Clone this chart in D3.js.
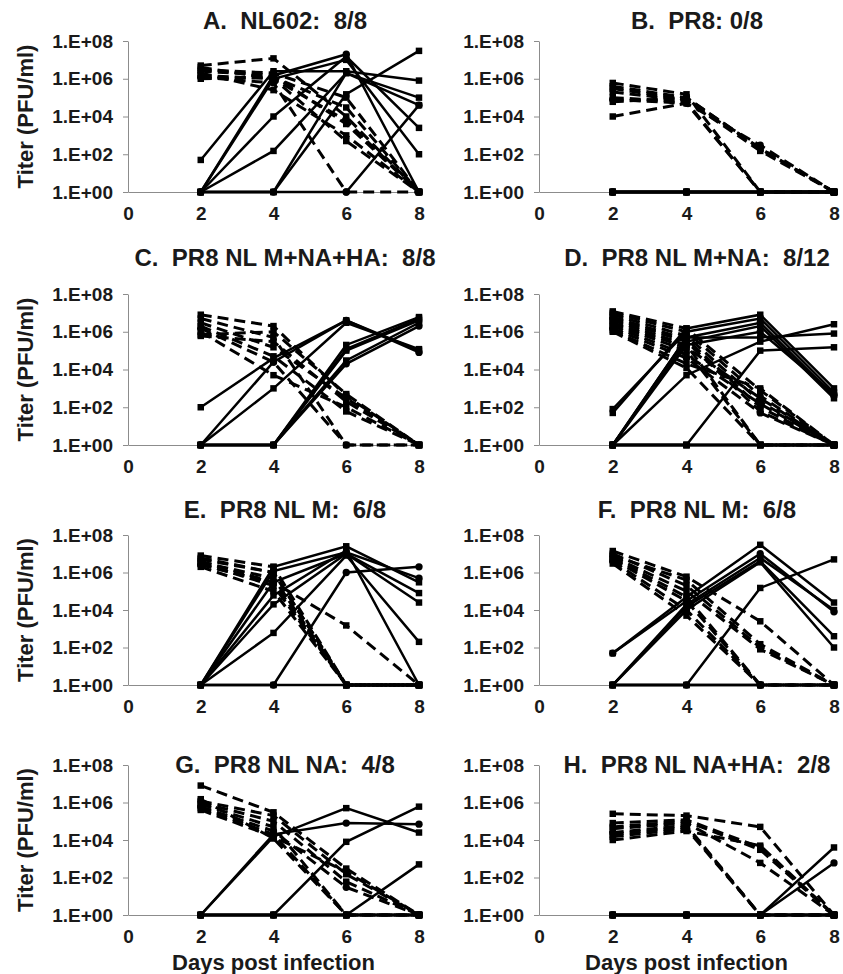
<!DOCTYPE html>
<html>
<head>
<meta charset="utf-8">
<script src="https://cdn.jsdelivr.net/npm/d3@7"></script>
<style>
  body { margin: 0; background: #fff; }
  svg text { font-family: "Liberation Sans", Arial, sans-serif; font-weight: bold; fill: #1a1a1a; }
</style>
</head>
<body>
<svg width="843" height="974"></svg>
<script>
// titers in PFU/ml, one row per animal, days 2/4/6/8
const days = [2, 4, 6, 8];
const xTicks = [0, 2, 4, 6, 8];
const yTicks = [1, 1e2, 1e4, 1e6, 1e8];
const titles = ["A.  NL602:  8/8", "B.  PR8: 0/8", "C.  PR8 NL M+NA+HA:  8/8", "D.  PR8 NL M+NA:  8/12",
                "E.  PR8 NL M:  6/8", "F.  PR8 NL M:  6/8", "G.  PR8 NL NA:  4/8", "H.  PR8 NL NA+HA:  2/8"];

// inoculated animals (dashed)
const inocA = [[5e6, 1.2e7, 1e4, 1], [3e6, 2e6, 1e5, 1], [2.5e6, 1.5e6, 4e3, 1], [1.5e6, 1e6, 5e2, 1],
               [1.2e6, 6e5, 1, 1], [1e6, 1.2e6, 3e4, 1], [2e6, 2.5e5, 1e3, 1], [4e6, 1e6, 6e3, 1]];
const inocB = [[6e5, 1.5e5, 1, 1], [4e5, 1e5, 2e2, 1], [3e5, 8e4, 2e2, 1], [1e5, 6e4, 1, 1],
               [8e4, 5e4, 3e2, 1], [6e4, 1e5, 2e2, 1], [1e4, 5e4, 1, 1], [2e5, 7e4, 1.5e2, 1]];
const inocC = [[8e6, 2e6, 4e2, 1], [5e6, 5e5, 1, 1], [3e6, 1.5e5, 3e2, 1], [2e6, 5e4, 60, 1],
               [1.5e6, 2.5e4, 1, 1], [1e6, 5e3, 1e2, 1], [7e5, 1e6, 5e2, 1], [6e5, 3e5, 2e2, 1]];
const inocD = [[1.2e7, 1.5e6, 8e2, 1], [1e7, 1e6, 4e2, 1], [8e6, 6e5, 2e2, 1], [6e6, 4e5, 1e2, 1],
               [5e6, 3e5, 60, 1], [4e6, 2e5, 1, 1], [3e6, 1.5e5, 3e2, 1], [2.5e6, 1e5, 1, 1],
               [2e6, 6e4, 1.5e2, 1], [1.5e6, 4e4, 50, 1], [1.2e6, 2e4, 1e3, 1], [1e6, 1.2e4, 1, 1]];
const inocE = [[8e6, 2e6, 1, 1], [6e6, 1e6, 1, 1], [4e6, 3e5, 1.5e3, 1], [3e6, 2e5, 1, 1],
               [2.5e6, 3e5, 1, 1], [2e6, 1e5, 1, 1], [5e6, 1e6, 1, 1], [3.5e6, 5e5, 1, 1]];
const inocF = [[1.4e7, 6e5, 2.5e3, 1], [1e7, 2e5, 1e2, 1], [7e6, 1e5, 80, 1], [5e6, 3e4, 1, 1],
               [4e6, 1e4, 1, 1], [3e6, 5e3, 1, 1], [8e6, 4e5, 1.5e2, 1], [6e6, 5e4, 1, 1]];
const inocG = [[8e6, 3e5, 3e2, 1], [1.2e6, 2e5, 1.5e2, 1], [1e6, 1e5, 60, 1], [8e5, 5e4, 1, 1],
               [6e5, 3e4, 30, 1], [5e5, 2e4, 1, 1], [4e5, 1.5e4, 2e2, 1], [1.5e6, 1.2e4, 1, 1]];
const inocH = [[2.5e5, 2e5, 5e4, 1], [8e4, 1.2e5, 4e3, 1], [5e4, 1e5, 3e3, 1], [4e4, 8e4, 6e2, 1],
               [2.5e4, 6e4, 1, 1], [2e4, 5e4, 1, 1], [1.5e4, 4e4, 1, 1], [1e4, 3e4, 5e3, 1]];

// contact animals (solid)
const contA = [[50, 2.5e6, 2.5e6, 8e5], [1, 1.5e6, 2e7, 1], [1, 1e4, 1.5e7, 2.5e3], [1, 1.5e2, 2e6, 1e5],
               [1, 1, 2e6, 4e4], [1, 1, 1.5e5, 3e7], [1, 1, 1, 4e4], [1, 1e6, 1e7, 1e2]];
const contB = [[1, 1, 1, 1], [1, 1, 1, 1], [1, 1, 1, 1], [1, 1, 1, 1],
               [1, 1, 1, 1], [1, 1, 1, 1], [1, 1, 1, 1], [1, 1, 1, 1]];
const contC = [[1e2, 4e4, 4e6, 1e5], [1, 2.5e4, 4e6, 8e4], [1, 1e3, 3e6, 1.2e5], [1, 1, 2e5, 6e6],
               [1, 1, 1e5, 4e6], [1, 1, 3e4, 3e6], [1, 1, 2e4, 2e6], [1, 1, 1.2e5, 5e6]];
const contD = [[50, 1.5e6, 8e6, 1e3], [80, 1e6, 5e6, 6e2], [1, 5e5, 3e6, 4e2], [1, 5e5, 5e5, 8e5],
               [1, 5e3, 3e5, 2.5e6], [1, 3e5, 2e6, 3e2], [1, 1, 1e5, 1.5e5], [1, 2e5, 1e6, 5e2],
               [1, 1, 1, 1], [1, 1, 1, 1], [1, 1, 1, 1], [1, 1, 1, 1]];
const contE = [[1, 2e6, 2.5e7, 3e5], [1, 1.2e6, 1.2e7, 5e5], [1, 3e5, 1e7, 8e4], [1, 2e4, 1e7, 2.5e4],
               [1, 6e2, 8e6, 2e2], [1, 6e4, 1.5e7, 1], [1, 1, 1e6, 2e6], [1, 1, 1, 1]];
const contF = [[50, 5e4, 3e7, 2.5e4], [50, 3e4, 1e7, 8e3], [1, 2e4, 6e6, 1e4], [1, 1.5e4, 4e6, 4e2],
               [1, 1e4, 3.5e6, 1e2], [1, 1, 1.5e5, 5e6], [1, 1, 1, 1], [1, 1, 1, 1]];
const contG = [[1, 1.5e4, 5e5, 2.5e4], [1, 2e4, 8e4, 7e4], [1, 1, 8e3, 6e5], [1, 1, 1, 5e2],
               [1, 1, 1, 1], [1, 1, 1, 1], [1, 1, 1, 1], [1, 1, 1, 1]];
const contH = [[1, 1, 1, 4e3], [1, 1, 1, 6e2], [1, 1, 1, 1], [1, 1, 1, 1],
               [1, 1, 1, 1], [1, 1, 1, 1], [1, 1, 1, 1], [1, 1, 1, 1]];

const inoc = [inocA, inocB, inocC, inocD, inocE, inocF, inocG, inocH];
const cont = [contA, contB, contC, contD, contE, contF, contG, contH];

const svg = d3.select("svg");

// layout
const colX = [[128, 419], [539, 834]];
const rowY = [[41, 192], [294, 445], [535, 685], [765, 915]];
const titleX = [285, 697];
const titleY = [29, 266, 518, 773];

const fmt = d => "1.E+" + String(Math.round(Math.log10(d))).padStart(2, "0");
const axisColor = "#8c8c8c";

titles.forEach((title, i) => {
  const col = i % 2, row = Math.floor(i / 2);
  const x = d3.scaleLinear().domain([0, 8]).range(colX[col]);
  const y = d3.scaleLog().domain([1, 1e8]).range([rowY[row][1], rowY[row][0]]);
  const g = svg.append("g");

  const yAxis = g.append("g")
      .attr("transform", `translate(${colX[col][0]},0)`)
      .call(d3.axisLeft(y).tickValues(yTicks).tickFormat(fmt).tickSize(5).tickSizeOuter(0).tickPadding(10));
  yAxis.attr("font-size", 19).attr("font-family", null);
  yAxis.selectAll("path, line").attr("stroke", axisColor);

  const xAxis = g.append("g")
      .attr("transform", `translate(0,${rowY[row][1]})`)
      .call(d3.axisBottom(x).tickValues(xTicks).tickSize(0).tickSizeOuter(0).tickPadding(15));
  xAxis.attr("font-size", 19).attr("font-family", null);
  xAxis.selectAll("path").attr("stroke", axisColor);

  g.append("text")
      .attr("x", titleX[col]).attr("y", titleY[row])
      .attr("text-anchor", "middle").attr("font-size", 24)
      .style("white-space", "pre")
      .text(title);

  if (col === 0) {
    const cy = (rowY[row][0] + rowY[row][1]) / 2;
    g.append("text")
        .attr("transform", `translate(33,${cy}) rotate(-90)`)
        .attr("text-anchor", "middle").attr("font-size", 22)
        .text("Titer (PFU/ml)");
  }
  if (row === 3) {
    g.append("text")
        .attr("x", (colX[col][0] + colX[col][1]) / 2).attr("y", 970)
        .attr("text-anchor", "middle").attr("font-size", 22)
        .text("Days post infection");
  }

  const line = d3.line().x((d, j) => x(days[j])).y(d => y(d));
  const sym = d3.symbol().type(d3.symbolSquare).size(42);

  // dashed first, solid on top
  inoc[i].forEach(s => {
    g.append("path").attr("d", line(s))
        .attr("fill", "none").attr("stroke", "#000")
        .attr("stroke-width", 3).attr("stroke-dasharray", "11,6");
  });
  cont[i].forEach(s => {
    g.append("path").attr("d", line(s))
        .attr("fill", "none").attr("stroke", "#000").attr("stroke-width", 2.5);
  });

  [...inoc[i], ...cont[i]].forEach((s, k) => {
    g.selectAll(null).data(s).enter().append("path")
        .attr("d", k % 5 === 4 ? d3.symbol().type(d3.symbolCircle).size(42)() : sym())
        .attr("transform", (d, j) => `translate(${x(days[j])},${y(d)})`)
        .attr("fill", "#000");
  });
});
</script>
</body>
</html>
